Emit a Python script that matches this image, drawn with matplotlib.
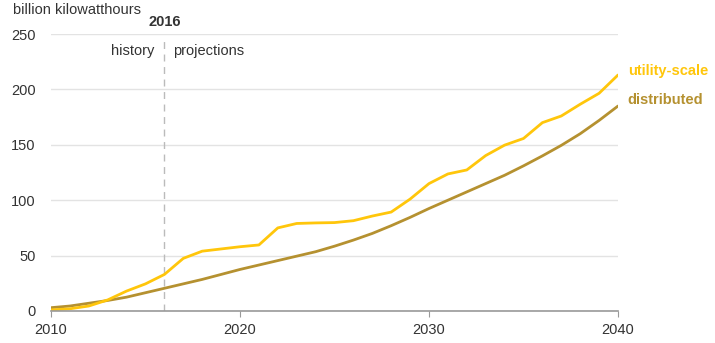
import matplotlib
matplotlib.use("Agg")
import matplotlib.pyplot as plt

plt.rcParams['font.family'] = ['Liberation Sans', 'DejaVu Sans']

years = list(range(2010, 2041))
utility_scale = [1, 2, 4.5, 10, 18, 24.5, 33, 47.5, 54, 56, 58, 59.6, 75, 79, 79.5, 79.8,
                 81.5, 85.7, 89.3, 101, 115, 123.7, 127.3, 140.3, 149.7, 155.7, 170, 176,
                 186.6, 196.5, 213]
distributed = [3, 4.5, 7, 9.5, 12.5, 16.5, 20.5, 24.5, 28.5, 33, 37.5, 41.5, 45.5, 49.5,
               53.5, 58.5, 64, 70, 77, 84.5, 92.5, 100, 107.5, 115, 122.5, 131, 140, 149.5,
               160, 172, 185]
series_names = ["utility-scale", "distributed"]
x_ticks = [2010, 2020, 2030, 2040]
y_ticks = [0, 50, 100, 150, 200, 250]
divider_year = 2016

c_util = "#FFC60B"
c_dist = "#B59130"
txt = "#333333"

fig = plt.figure(figsize=(7.15, 3.43), dpi=100)
ax = fig.add_axes([51/715, 32/343, 567/715, 277/343])

ax.plot(years, distributed, color=c_dist, lw=2, solid_capstyle='round', zorder=3)
ax.plot(years, utility_scale, color=c_util, lw=2, solid_capstyle='round', zorder=4)

ax.set_xlim(2010, 2040)
ax.set_ylim(0, 250)
ax.set_xticks(x_ticks)
ax.set_yticks(y_ticks)
ax.tick_params(axis='y', length=0, pad=11, labelsize=10.5, labelcolor=txt)
ax.tick_params(axis='x', length=4, color="#999999", pad=5, labelsize=10.5, labelcolor=txt)
ax.grid(axis='y', color="#e3e3e3", lw=1)
ax.set_axisbelow(True)
for s in ['top', 'right', 'left']:
    ax.spines[s].set_visible(False)
ax.spines['bottom'].set_color("#999999")
ax.spines['bottom'].set_linewidth(1.2)
ax.spines['bottom'].set_zorder(5)

ax.axvline(divider_year, ymin=0, ymax=0.99, color="#bbbbbb", lw=1, ls=(0, (5, 4)), zorder=2)
ax.annotate("2016", xy=(divider_year, 250), xytext=(0, 9), textcoords='offset points',
            ha='center', va='center', fontsize=10.5, fontweight='bold', color=txt,
            annotation_clip=False)
ax.annotate("history", xy=(divider_year, 250), xytext=(-7, -7), textcoords='offset points',
            ha='right', va='top', fontsize=10.5, color=txt)
ax.annotate("projections", xy=(divider_year, 250), xytext=(6, -7), textcoords='offset points',
            ha='left', va='top', fontsize=10.5, color=txt)

fig.text(13/715, 1 - 10/343, "billion kilowatthours", ha='left', va='center',
         fontsize=10.5, color=txt)

ax.annotate(series_names[0], xy=(2040, utility_scale[-1]), xytext=(7, 3),
            textcoords='offset points', ha='left', va='center', fontsize=10.5,
            fontweight='bold', color=c_util, annotation_clip=False)
ax.annotate(series_names[1], xy=(2040, distributed[-1]), xytext=(7, 4),
            textcoords='offset points', ha='left', va='center', fontsize=10.5,
            fontweight='bold', color=c_dist, annotation_clip=False)

fig.savefig("out.png", dpi=100)
